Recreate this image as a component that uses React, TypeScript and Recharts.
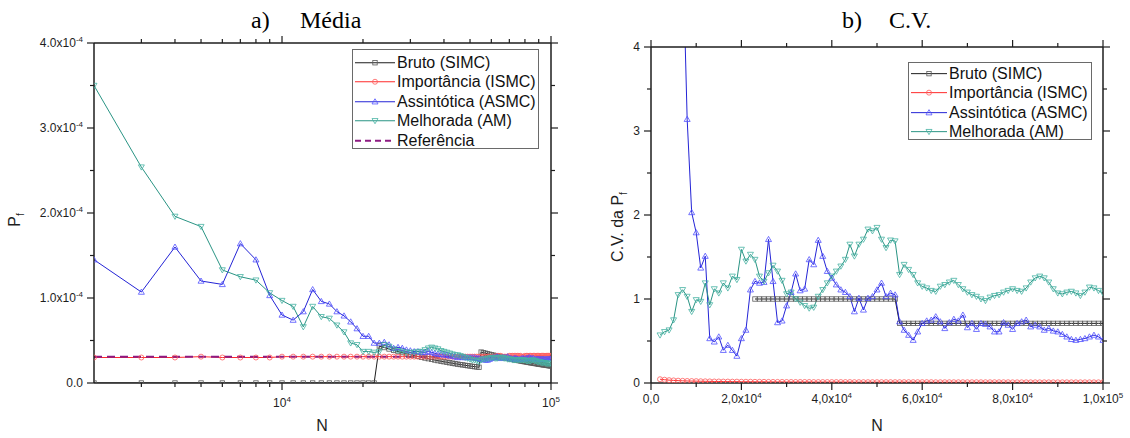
import React from 'react';
import { LineChart, Line, XAxis, YAxis, ReferenceLine } from 'recharts';

// tamanhos de amostra N (2000 a 100000, passo 1000)
const nValues = [
  2000, 3000, 4000, 5000, 6000, 7000, 8000, 9000, 10000,
  11000, 12000, 13000, 14000, 15000, 16000, 17000, 18000, 19000, 20000,
  21000, 22000, 23000, 24000, 25000, 26000, 27000, 28000, 29000, 30000,
  31000, 32000, 33000, 34000, 35000, 36000, 37000, 38000, 39000, 40000,
  41000, 42000, 43000, 44000, 45000, 46000, 47000, 48000, 49000, 50000,
  51000, 52000, 53000, 54000, 55000, 56000, 57000, 58000, 59000, 60000,
  61000, 62000, 63000, 64000, 65000, 66000, 67000, 68000, 69000, 70000,
  71000, 72000, 73000, 74000, 75000, 76000, 77000, 78000, 79000, 80000,
  81000, 82000, 83000, 84000, 85000, 86000, 87000, 88000, 89000, 90000,
  91000, 92000, 93000, 94000, 95000, 96000, 97000, 98000, 99000, 100000,
];

// a) média de P_f, em unidades de 1e-4
const mediaBruto = [
  0, 0, 0, 0, 0, 0, 0, 0, 0,
  0, 0, 0, 0, 0, 0, 0, 0, 0, 0,
  0, 0, 0.435, 0.417, 0.4, 0.385, 0.37, 0.357, 0.345, 0.333,
  0.323, 0.313, 0.303, 0.294, 0.286, 0.278, 0.27, 0.263, 0.256, 0.25,
  0.244, 0.238, 0.233, 0.227, 0.222, 0.217, 0.213, 0.208, 0.204, 0.2,
  0.196, 0.192, 0.189, 0.185, 0.364, 0.357, 0.351, 0.345, 0.339, 0.333,
  0.328, 0.323, 0.317, 0.313, 0.308, 0.303, 0.299, 0.294, 0.29, 0.286,
  0.282, 0.278, 0.274, 0.27, 0.267, 0.263, 0.26, 0.256, 0.253, 0.25,
  0.247, 0.244, 0.241, 0.238, 0.235, 0.233, 0.23, 0.227, 0.225, 0.222,
  0.22, 0.217, 0.215, 0.213, 0.211, 0.208, 0.206, 0.204, 0.202, 0.2,
];
const mediaImportancia = [
  0.3, 0.3, 0.3, 0.31, 0.3, 0.3, 0.3, 0.3, 0.31,
  0.31, 0.31, 0.31, 0.31, 0.31, 0.31, 0.31, 0.31, 0.31, 0.31,
  0.31, 0.31, 0.31, 0.31, 0.31, 0.31, 0.31, 0.31, 0.31, 0.31,
  0.31, 0.31, 0.31, 0.31, 0.31, 0.31, 0.31, 0.31, 0.31, 0.31,
  0.31, 0.31, 0.31, 0.31, 0.31, 0.31, 0.31, 0.31, 0.31, 0.31,
  0.31, 0.31, 0.31, 0.31, 0.31, 0.31, 0.31, 0.31, 0.31, 0.31,
  0.31, 0.31, 0.32, 0.32, 0.32, 0.31, 0.31, 0.31, 0.31, 0.32,
  0.32, 0.32, 0.32, 0.32, 0.32, 0.32, 0.32, 0.31, 0.31, 0.32,
  0.32, 0.32, 0.32, 0.32, 0.32, 0.32, 0.32, 0.32, 0.32, 0.32,
  0.32, 0.32, 0.32, 0.32, 0.32, 0.32, 0.32, 0.32, 0.32, 0.32,
];
const mediaAssintotica = [
  1.45, 1.07, 1.6, 1.2, 1.16, 1.64, 1.45, 1.03, 0.8,
  0.74, 0.84, 1.1, 0.96, 0.93, 0.84, 0.79, 0.72, 0.64, 0.55,
  0.55, 0.47, 0.47, 0.48, 0.45, 0.41, 0.42, 0.41, 0.39, 0.38,
  0.37, 0.37, 0.36, 0.36, 0.37, 0.36, 0.35, 0.34, 0.34, 0.33,
  0.33, 0.32, 0.32, 0.31, 0.3, 0.31, 0.3, 0.3, 0.3, 0.3,
  0.3, 0.3, 0.29, 0.29, 0.28, 0.28, 0.27, 0.27, 0.28, 0.29,
  0.3, 0.3, 0.31, 0.3, 0.29, 0.3, 0.3, 0.3, 0.31, 0.29,
  0.29, 0.28, 0.29, 0.29, 0.28, 0.28, 0.28, 0.29, 0.29, 0.28,
  0.29, 0.29, 0.3, 0.29, 0.29, 0.29, 0.28, 0.28, 0.28, 0.28,
  0.28, 0.28, 0.28, 0.28, 0.28, 0.28, 0.28, 0.28, 0.28, 0.28,
];
const mediaMelhorada = [
  3.5, 2.54, 1.96, 1.84, 1.33, 1.25, 1.21, 1.06, 0.97,
  0.9, 0.66, 0.9, 0.78, 0.76, 0.68, 0.6, 0.47, 0.45, 0.37,
  0.37, 0.36, 0.37, 0.45, 0.43, 0.4, 0.38, 0.37, 0.36, 0.36,
  0.36, 0.37, 0.37, 0.39, 0.41, 0.42, 0.41, 0.4, 0.38, 0.37,
  0.36, 0.35, 0.34, 0.33, 0.33, 0.32, 0.31, 0.3, 0.29, 0.28,
  0.27, 0.27, 0.26, 0.25, 0.27, 0.28, 0.28, 0.29, 0.29, 0.3,
  0.3, 0.29, 0.29, 0.3, 0.3, 0.3, 0.29, 0.29, 0.28, 0.28,
  0.28, 0.27, 0.27, 0.27, 0.27, 0.27, 0.27, 0.27, 0.27, 0.27,
  0.26, 0.26, 0.26, 0.26, 0.27, 0.27, 0.26, 0.26, 0.25, 0.25,
  0.25, 0.24, 0.24, 0.24, 0.24, 0.23, 0.23, 0.23, 0.23, 0.23,
];
const mediaReferencia = 0.31;

// b) coeficiente de variação da P_f
const cvBruto = [
  null, null, null, null, null, null, null, null, null,
  null, null, null, null, null, null, null, null, null, null,
  null, null, 1, 1, 1, 1, 1, 1, 1, 1,
  1, 1, 1, 1, 1, 1, 1, 1, 1, 1,
  1, 1, 1, 1, 1, 1, 1, 1, 1, 1,
  1, 1, 1, 1, 0.71, 0.71, 0.71, 0.71, 0.71, 0.71,
  0.71, 0.71, 0.71, 0.71, 0.71, 0.71, 0.71, 0.71, 0.71, 0.71,
  0.71, 0.71, 0.71, 0.71, 0.71, 0.71, 0.71, 0.71, 0.71, 0.71,
  0.71, 0.71, 0.71, 0.71, 0.71, 0.71, 0.71, 0.71, 0.71, 0.71,
  0.71, 0.71, 0.71, 0.71, 0.71, 0.71, 0.71, 0.71, 0.71, 0.71,
];
const cvImportancia = [
  0.045, 0.039, 0.034, 0.031, 0.028, 0.026, 0.024, 0.023, 0.022,
  0.021, 0.02, 0.019, 0.018, 0.018, 0.017, 0.017, 0.016, 0.016, 0.015,
  0.015, 0.015, 0.014, 0.014, 0.014, 0.013, 0.013, 0.013, 0.013, 0.012,
  0.012, 0.012, 0.012, 0.012, 0.012, 0.011, 0.011, 0.011, 0.011, 0.011,
  0.011, 0.011, 0.011, 0.011, 0.01, 0.01, 0.01, 0.01, 0.01, 0.01,
  0.01, 0.01, 0.01, 0.01, 0.01, 0.01, 0.01, 0.01, 0.01, 0.01,
  0.01, 0.01, 0.009, 0.009, 0.009, 0.009, 0.009, 0.009, 0.009, 0.009,
  0.009, 0.009, 0.009, 0.009, 0.009, 0.009, 0.009, 0.009, 0.009, 0.008,
  0.008, 0.008, 0.008, 0.008, 0.008, 0.008, 0.008, 0.008, 0.008, 0.008,
  0.008, 0.008, 0.008, 0.008, 0.008, 0.008, 0.008, 0.008, 0.008, 0.008,
];
const cvAssintotica = [
  14, 11, 9, 7.5, 6.3, 5.2, 3.14, 2.03, 1.79,
  1.37, 1.51, 0.53, 0.49, 0.55, 0.39, 0.45, 0.39, 0.32, 0.53,
  0.63, 1.11, 1.21, 1.19, 1.2, 1.71, 1.21, 0.72, 0.74, 0.92,
  1.08, 1.3, 1.1, 1.12, 1.47, 1.41, 1.7, 1.51, 1.33, 1.25,
  1.17, 1.11, 1.08, 1.03, 0.85, 1.01, 0.87, 1.01, 1.03, 1.11,
  1.19, 1.03, 1.07, 1.05, 0.73, 0.63, 0.57, 0.51, 0.61, 0.71,
  0.74, 0.75, 0.79, 0.73, 0.65, 0.72, 0.76, 0.74, 0.81, 0.66,
  0.71, 0.64, 0.71, 0.7, 0.67, 0.61, 0.61, 0.72, 0.69, 0.64,
  0.71, 0.73, 0.75, 0.67, 0.69, 0.67, 0.63, 0.65, 0.62, 0.61,
  0.58, 0.55, 0.52, 0.51, 0.52, 0.53, 0.55, 0.57, 0.55, 0.51,
];
const cvMelhorada = [
  0.57, 0.61, 0.63, 0.75, 1.05, 1.11, 1.03, 0.85, 0.99,
  0.97, 1.19, 0.93, 1.12, 1.07, 1.19, 1.13, 1.27, 1.23, 1.59,
  1.45, 1.53, 1.47, 1.27, 1.21, 1.31, 1.4, 1.33, 1.22, 1.06,
  1.08, 1.0, 0.96, 0.92, 0.89, 0.9, 1.03, 1.11, 1.19, 1.27,
  1.33, 1.39, 1.47, 1.65, 1.51, 1.65, 1.71, 1.83, 1.81, 1.85,
  1.71, 1.61, 1.7, 1.69, 1.29, 1.41, 1.35, 1.29, 1.19, 1.15,
  1.13, 1.1, 1.09, 1.15, 1.17, 1.2, 1.22, 1.17, 1.12, 1.08,
  1.05, 1.03, 1.0, 0.98, 1.02, 1.04, 1.05, 1.08, 1.1, 1.12,
  1.1, 1.09, 1.13, 1.2, 1.25, 1.27, 1.25, 1.2, 1.12, 1.07,
  1.06, 1.08, 1.09, 1.07, 1.04, 1.08, 1.14, 1.13, 1.1, 1.07,
];

// ticks
const logTicks = [3000, 4000, 5000, 6000, 7000, 8000, 9000, 10000, 20000, 30000, 40000, 50000, 60000, 70000, 80000, 90000, 100000];
const linTicks = [0, 10000, 20000, 30000, 40000, 50000, 60000, 70000, 80000, 90000, 100000];
const halfTicks = [0, 0.5, 1, 1.5, 2, 2.5, 3, 3.5, 4];
const linTickLabels: Record<number, [string, string]> = {
  0: ['0,0', ''],
  20000: ['2,0x10', '4'],
  40000: ['4,0x10', '4'],
  60000: ['6,0x10', '4'],
  80000: ['8,0x10', '4'],
  100000: ['1,0x10', '5'],
};

const series = [
  { key: 'bruto', name: 'Bruto (SIMC)', line: '#1c1c1c', mark: '#5a5a5a', shape: 'square' },
  { key: 'importancia', name: 'Importância (ISMC)', line: '#ff2b2b', mark: '#ff5c5c', shape: 'circle' },
  { key: 'assintotica', name: 'Assintótica (ASMC)', line: '#2424d6', mark: '#5252ff', shape: 'up' },
  { key: 'melhorada', name: 'Melhorada (AM)', line: '#2a9484', mark: '#46b3a3', shape: 'down' },
];
const refStyle = { name: 'Referência', color: '#8e1b82' };

const mediaData = nValues.map((n, i) => ({
  n,
  bruto: mediaBruto[i],
  importancia: mediaImportancia[i],
  assintotica: mediaAssintotica[i],
  melhorada: mediaMelhorada[i],
}));
const cvData = nValues.map((n, i) => ({
  n,
  bruto: cvBruto[i],
  importancia: cvImportancia[i],
  assintotica: cvAssintotica[i],
  melhorada: cvMelhorada[i],
}));

const INK = '#1e1e1e';
const SANS = "'Liberation Sans', Arial, sans-serif";
const SERIF = "'Liberation Serif', 'Times New Roman', serif";

const Marker = ({ cx, cy, shape, color }: any) => {
  if (cx == null || cy == null || Number.isNaN(cx) || Number.isNaN(cy)) return <g />;
  const s = { fill: 'none', stroke: color, strokeWidth: 0.8 };
  if (shape === 'square') return <rect x={cx - 2.2} y={cy - 2.2} width={4.4} height={4.4} {...s} />;
  if (shape === 'circle') return <circle cx={cx} cy={cy} r={2.5} {...s} />;
  if (shape === 'up') return <polygon points={`${cx},${cy - 3} ${cx - 3},${cy + 2.2} ${cx + 3},${cy + 2.2}`} {...s} />;
  return <polygon points={`${cx},${cy + 3} ${cx - 3},${cy - 2.2} ${cx + 3},${cy - 2.2}`} {...s} />;
};

// eixo x logaritmico (painel a)
const LogTick = ({ x, y, payload, top }: any) => {
  const v = payload.value;
  const major = v === 10000 || v === 100000;
  const dir = top ? -1 : 1;
  return (
    <g>
      <line x1={x} y1={y} x2={x} y2={y + dir * (major ? 7 : 4)} stroke={INK} strokeWidth={1.2} />
      {!top && major && (
        <text x={x} y={y + 24} textAnchor="middle" fontSize={12} fontFamily={SANS} fill={INK}>
          10<tspan dy={-5} fontSize={8}>{v === 10000 ? '4' : '5'}</tspan>
        </text>
      )}
    </g>
  );
};

// eixo x linear (painel b)
const LinTick = ({ x, y, payload, top }: any) => {
  const v = payload.value;
  const lab = linTickLabels[v];
  const dir = top ? -1 : 1;
  return (
    <g>
      <line x1={x} y1={y} x2={x} y2={y + dir * (lab ? 7 : 4)} stroke={INK} strokeWidth={1.2} />
      {!top && lab && (
        <text x={x} y={y + 20} textAnchor="middle" fontSize={12} fontFamily={SANS} fill={INK}>
          {lab[0]}
          {lab[1] && <tspan dy={-5} fontSize={8}>{lab[1]}</tspan>}
        </text>
      )}
    </g>
  );
};

const YTick = ({ x, y, payload, right, kind }: any) => {
  const v = payload.value;
  const major = Number.isInteger(v);
  const dir = right ? 1 : -1;
  let label: React.ReactNode = null;
  if (!right && major) {
    if (kind === 'media') {
      label = v === 0 ? '0.0' : (
        <>
          {v.toFixed(1)}x10<tspan dy={-5} fontSize={8}>-4</tspan>
        </>
      );
    } else {
      label = String(v);
    }
  }
  return (
    <g>
      <line x1={x} y1={y} x2={x + dir * (major ? 7 : 4)} y2={y} stroke={INK} strokeWidth={1.2} />
      {label != null && (
        <text x={x - 11} y={y} dy="0.35em" textAnchor="end" fontSize={12} fontFamily={SANS} fill={INK}>
          {label}
        </text>
      )}
    </g>
  );
};

const axisLine = { stroke: INK, strokeWidth: 1.5 };
const tickBase = { tickSize: 0, tickMargin: 0, tickLine: false, interval: 0 as const, axisLine };

const renderLines = () =>
  series.map((s) => (
    <Line
      key={s.key}
      xAxisId="b"
      yAxisId="l"
      dataKey={s.key}
      name={s.name}
      type="linear"
      stroke={s.line}
      strokeWidth={1}
      isAnimationActive={false}
      activeDot={false}
      dot={(p: any) => <Marker key={`${s.key}-${p.index}`} cx={p.cx} cy={p.cy} shape={s.shape} color={s.mark} />}
    />
  ));

const LegendBox = ({ withRef, style, rowH, padTop, lineW }: any) => {
  const items: any[] = series.map((s) => ({ name: s.name, color: s.line, mark: s.mark, shape: s.shape }));
  if (withRef) items.push({ name: refStyle.name, color: refStyle.color, dash: true });
  return (
    <div
      style={{
        position: 'absolute',
        boxSizing: 'border-box',
        border: '1px solid #6a6a6a',
        background: '#fff',
        paddingTop: padTop,
        fontFamily: SANS,
        ...style,
      }}
    >
      {items.map((it) => (
        <div key={it.name} style={{ display: 'flex', alignItems: 'center', height: rowH }}>
          <svg width={lineW + 4} height={rowH} style={{ flex: 'none' }}>
            <line
              x1={2}
              x2={lineW + 2}
              y1={rowH / 2}
              y2={rowH / 2}
              stroke={it.color}
              strokeWidth={it.dash ? 2 : 1}
              strokeDasharray={it.dash ? '6 4' : undefined}
            />
            {!it.dash && <Marker cx={lineW / 2 + 2} cy={rowH / 2} shape={it.shape} color={it.mark} />}
          </svg>
          <span style={{ fontSize: 16, lineHeight: `${rowH}px`, color: '#111', whiteSpace: 'nowrap' }}>{it.name}</span>
        </div>
      ))}
    </div>
  );
};

const App = () => {
  return (
    <div style={{ position: 'absolute', left: 0, top: 0, width: 1130, height: 438, background: '#fff', overflow: 'hidden' }}>
      {/* a) Média */}
      <div style={{ position: 'absolute', left: 0, top: 0 }}>
        <LineChart width={565} height={438} data={mediaData} margin={{ top: 33, right: 4, bottom: 25, left: 34 }}>
          <XAxis
            xAxisId="b"
            dataKey="n"
            type="number"
            scale="log"
            domain={[2000, 100000]}
            allowDataOverflow
            ticks={logTicks}
            height={30}
            tick={(p: any) => <LogTick {...p} />}
            {...tickBase}
          />
          <XAxis
            xAxisId="t"
            orientation="top"
            dataKey="n"
            type="number"
            scale="log"
            domain={[2000, 100000]}
            allowDataOverflow
            ticks={logTicks}
            height={10}
            tick={(p: any) => <LogTick {...p} top />}
            {...tickBase}
          />
          <YAxis
            yAxisId="l"
            type="number"
            domain={[0, 4]}
            allowDataOverflow
            ticks={halfTicks}
            width={60}
            tick={(p: any) => <YTick {...p} kind="media" />}
            {...tickBase}
          />
          <YAxis
            yAxisId="r"
            orientation="right"
            type="number"
            domain={[0, 4]}
            allowDataOverflow
            ticks={halfTicks}
            width={10}
            tick={(p: any) => <YTick {...p} right />}
            {...tickBase}
          />
          {renderLines()}
          <ReferenceLine
            xAxisId="b"
            yAxisId="l"
            y={mediaReferencia}
            stroke={refStyle.color}
            strokeWidth={2}
            strokeDasharray="8 5"
          />
        </LineChart>
      </div>

      {/* b) C.V. */}
      <div style={{ position: 'absolute', left: 565, top: 0 }}>
        <LineChart width={565} height={438} data={cvData} margin={{ top: 37, right: 17, bottom: 25, left: 26 }}>
          <XAxis
            xAxisId="b"
            dataKey="n"
            type="number"
            domain={[0, 100000]}
            allowDataOverflow
            ticks={linTicks}
            height={30}
            tick={(p: any) => <LinTick {...p} />}
            {...tickBase}
          />
          <XAxis
            xAxisId="t"
            orientation="top"
            dataKey="n"
            type="number"
            domain={[0, 100000]}
            allowDataOverflow
            ticks={linTicks}
            height={10}
            tick={(p: any) => <LinTick {...p} top />}
            {...tickBase}
          />
          <YAxis
            yAxisId="l"
            type="number"
            domain={[0, 4]}
            allowDataOverflow
            ticks={halfTicks}
            width={60}
            tick={(p: any) => <YTick {...p} kind="cv" />}
            {...tickBase}
          />
          <YAxis
            yAxisId="r"
            orientation="right"
            type="number"
            domain={[0, 4]}
            allowDataOverflow
            ticks={halfTicks}
            width={10}
            tick={(p: any) => <YTick {...p} right />}
            {...tickBase}
          />
          {renderLines()}
        </LineChart>
      </div>

      <LegendBox withRef rowH={19.5} padTop={2.5} lineW={40} style={{ left: 352, top: 49, width: 187, height: 100 }} />
      <LegendBox rowH={19.3} padTop={1} lineW={36} style={{ left: 908, top: 62, width: 184, height: 78 }} />

      <svg width={1130} height={438} style={{ position: 'absolute', left: 0, top: 0, pointerEvents: 'none' }}>
        <g fontFamily={SERIF} fontSize={24} fill="#000">
          <text x={251} y={28}>a)</text>
          <text x={300} y={28}>Média</text>
          <text x={842} y={28}>b)</text>
          <text x={889} y={28}>C.V.</text>
        </g>
        <g fontFamily={SANS} fontSize={16} fill={INK}>
          <text x={322} y={431} textAnchor="middle">N</text>
          <text x={877} y={431} textAnchor="middle">N</text>
          <text transform="translate(20,220) rotate(-90)" textAnchor="middle">
            P<tspan dy={4} fontSize={10}>f</tspan>
          </text>
          <text transform="translate(623,227) rotate(-90)" textAnchor="middle">
            C.V. da P<tspan dy={4} fontSize={10}>f</tspan>
          </text>
        </g>
      </svg>
    </div>
  );
};

export default App;
